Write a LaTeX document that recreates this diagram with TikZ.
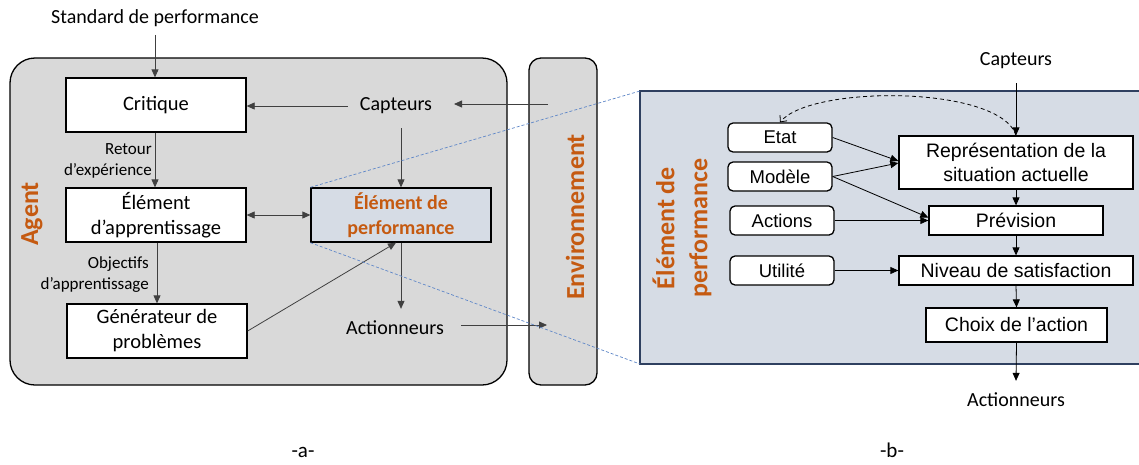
\documentclass[tikz,border=0pt]{standalone}
\usepackage{fontspec}
\setmainfont{Carlito}
\newfontfamily\arialf{Liberation Sans}
\usetikzlibrary{arrows.meta,calc}
\definecolor{orng}{RGB}{197,90,17}
\definecolor{agray}{RGB}{217,217,217}
\definecolor{bgray}{RGB}{214,220,229}
\definecolor{pborder}{RGB}{47,64,96}
\definecolor{dashblue}{RGB}{95,135,200}
\definecolor{lgray}{RGB}{64,64,64}
\begin{document}
\begin{tikzpicture}[x=1pt,y=-1pt,
  lbox/.style={draw=black, line width=1.3pt, fill=white, minimum width=180pt, minimum height=54pt,
    align=center, inner sep=0pt, font=\fontsize{20.5}{25}\selectfont},
  ltext/.style={font=\fontsize{20}{24}\selectfont, inner sep=0pt},
  small/.style={font=\fontsize{17}{21}\selectfont, align=right, inner sep=0pt},
  big/.style={font=\fontsize{26}{33}\selectfont\bfseries, text=orng, rotate=90, align=center, inner sep=0pt},
  larr/.style={draw=lgray, line width=0.8pt, -{Triangle[length=8pt,width=7pt]}},
  rarr/.style={draw=black, line width=0.8pt, -{Triangle[length=8pt,width=7pt]}},
  rbox/.style={draw=black, line width=1.3pt, fill=white, align=center, inner sep=0pt,
    font=\arialf\fontsize{19.5}{24}\selectfont},
  rrbox/.style={draw=black, line width=1.3pt, fill=white, rounded corners=5pt, minimum width=104pt,
    minimum height=29pt, inner sep=0pt, font=\arialf\fontsize{18.5}{22}\selectfont},
  zoomline/.style={draw=dashblue, line width=0.7pt, dash pattern=on 3pt off 2pt}
]
\useasboundingbox (0,0) rectangle (1139,464);
\clip (0,0) rectangle (1139,464);
\fill[white] (0,0) rectangle (1139,464);

% ---------- panel a ----------
\draw[fill=agray, line width=1.3pt, rounded corners=25pt] (10,58) rectangle (507,385);
\node[draw=black, fill=agray, line width=1.3pt, rounded corners=12pt, minimum width=68pt, minimum height=327pt, inner sep=0pt] (env) at (563,221.5) {};
\node[big] (envlbl) at (575,217) {Environnement};
\node[big] (agentlbl) at (32,214) {Agent};

\node[ltext] (std) at (155,18) {Standard de performance};
\node[lbox] (crit) at (156,105) {Critique};
\node[lbox] (app) at (156,215) {Élément\\d’apprentissage};
\node[lbox] (gen) at (157,331) {Générateur de\\problèmes};
\node[lbox, fill=bgray, text=orng, font=\fontsize{20}{25}\selectfont\bfseries] (perf) at (401,215) {Élément de\\performance};
\node[ltext, inner xsep=12pt, inner ysep=14pt] (capt) at (396,106) {Capteurs};
\node[ltext, inner xsep=17pt, inner ysep=12pt] (act) at (395,328) {Actionneurs};

\node[small, anchor=east] (retour) at (152,160.5) {Retour\\d’expérience};
\node[small, anchor=east] (obj) at (149,274.5) {Objectifs\\d’apprentissage};

\coordinate (envin) at (548,104);
\coordinate (envout) at (547,325);
\coordinate (captin) at (454,104);

\draw[larr] ([yshift=-8pt]std.south) -- (std.south |- crit.north);
\draw[larr] (capt.west) -- (crit.east |- capt.west);
\draw[larr] (envin) -- (captin);
\draw[larr] (capt.south -| perf.north) -- (perf.north);
\draw[larr] (crit.south -| 155,0) -- (app.north -| 155,0);
\draw[draw=lgray, line width=0.8pt, {Triangle[length=8pt,width=7pt]}-{Triangle[length=8pt,width=7pt]}] (app.east) -- (perf.west);
\draw[larr] (app.south -| 157,0) -- (gen.north -| 157,0);
\draw[larr] (gen.east) -- ([xshift=-5pt]perf.south);
\draw[larr] (perf.south) -- (perf.south |- act.north);
\draw[larr] (act.east |- envout) -- (envout);

% ---------- panel b ----------
\coordinate (pnw) at (640,91);
\coordinate (psw) at (640,364);
\draw[fill=bgray, draw=pborder, line width=1.5pt] (pnw) rectangle (1160,364);
\draw[zoomline] (perf.north west) -- (pnw);
\draw[zoomline] (perf.south west) -- (psw);

\node[big] (eplbl) at (682,228) {Élément de\\performance};

\node[ltext, inner ysep=14pt] (capt2) at (1016,61) {Capteurs};
\node[ltext, inner ysep=12pt] (act2) at (1016,400) {Actionneurs};

\node[rbox, minimum width=234pt, minimum height=53pt] (rep) at (1016,162.5) {Représentation de la\\situation actuelle};
\node[rbox, minimum width=174pt, minimum height=29pt] (prev) at (1016,220.5) {Prévision};
\node[rbox, minimum width=234pt, minimum height=29pt] (niv) at (1016,270.5) {Niveau de satisfaction};
\node[rbox, minimum width=181pt, minimum height=34pt] (choix) at (1016.5,325) {Choix de l’action};

\node[rrbox] (etat) at (780,137.5) {Etat};
\node[rrbox] (mod) at (780,176.5) {Modèle};
\node[rrbox] (actions) at (782,220.5) {Actions};
\node[rrbox] (util) at (782,270.5) {Utilité};

\draw[rarr] (capt2.south) -- (rep.north);
\draw[rarr] (rep.south) -- (prev.north);
\draw[rarr] (prev.south) -- (niv.north);
\draw[rarr] (niv.south) -- (choix.north);
\draw[rarr] (choix.south) -- (act2.north);

\draw[rarr] (etat.east) -- ([yshift=1.5pt]rep.west);
\draw[rarr] (mod.east) -- ([yshift=-0.5pt]rep.west);
\draw[rarr] (mod.east) -- ([yshift=3pt]prev.west);
\draw[rarr] (actions.east) -- (prev.west);
\draw[rarr] (util.east) -- (niv.west);

\draw[black, line width=0.8pt, dash pattern=on 4pt off 3pt, -{Straight Barb[length=5pt,width=9pt]}]
  (rep.north) .. controls (1000,85) and (810,85) .. (etat.north);

\node[ltext, font=\fontsize{21}{24}\selectfont, anchor=base] (la) at (303,457) {-a-};
\node[ltext, font=\fontsize{21}{24}\selectfont, anchor=base] (lb) at (892,457) {-b-};
\end{tikzpicture}
\end{document}
